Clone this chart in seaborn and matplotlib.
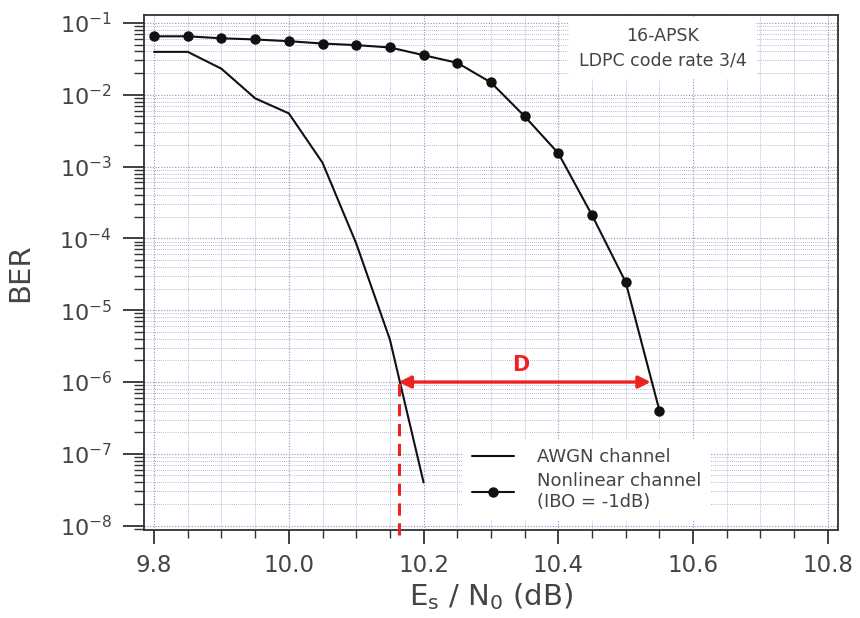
import numpy as np
import pandas as pd
import matplotlib
matplotlib.use("Agg")
import matplotlib.pyplot as plt
import matplotlib.ticker as mticker
import seaborn as sns

# ---- data ----
snr_awgn = [9.80, 9.85, 9.90, 9.95, 10.00, 10.05, 10.10, 10.15, 10.20]
ber_awgn = [0.0395, 0.0395, 0.023, 0.0089, 0.0055, 1.13e-3, 8.5e-5, 3.9e-6, 4.0e-8]

snr_nl = [9.80, 9.85, 9.90, 9.95, 10.00, 10.05, 10.10, 10.15, 10.20, 10.25,
          10.30, 10.35, 10.40, 10.45, 10.50, 10.55]
ber_nl = [0.065, 0.065, 0.061, 0.0588, 0.0556, 0.0516, 0.049, 0.0455, 0.0355, 0.0278,
          0.0148, 5.0e-3, 1.53e-3, 2.1e-4, 2.45e-5, 4.0e-7]

series_names = ["AWGN channel", "Nonlinear channel\n(IBO = -1dB)"]
box_text = "16-APSK\nLDPC code rate 3/4"
ref_ber = 1e-6
d_left, d_right = 10.163, 10.537

df_awgn = pd.DataFrame({"snr": snr_awgn, "ber": ber_awgn})
df_nl = pd.DataFrame({"snr": snr_nl, "ber": ber_nl})

sns.set_theme(style="white")
plt.rcParams["font.family"] = ["DejaVu Sans"]
plt.rcParams["mathtext.default"] = "regular"

fig = plt.figure(figsize=(8.6, 6.18), dpi=100)
ax = fig.add_axes([0.1674, 0.1424, 0.807, 0.833])

sns.lineplot(data=df_awgn, x="snr", y="ber", color="#111111", linewidth=1.5,
             ax=ax, label=series_names[0], sort=False, estimator=None)
sns.lineplot(data=df_nl, x="snr", y="ber", color="#111111", linewidth=1.5,
             marker="o", markersize=7.5, markeredgewidth=0,
             ax=ax, label=series_names[1], sort=False, estimator=None)

ax.set_yscale("log")
ax.set_xlim(9.785, 10.815)
ax.set_ylim(10 ** -8.06, 10 ** -0.893)

ax.xaxis.set_major_locator(mticker.MultipleLocator(0.2))
ax.xaxis.set_minor_locator(mticker.MultipleLocator(0.05))
ax.xaxis.set_major_formatter(mticker.FormatStrFormatter("%.1f"))
ax.xaxis.set_minor_formatter(mticker.NullFormatter())
ax.yaxis.set_major_locator(mticker.LogLocator(base=10, numticks=20))
ax.yaxis.set_minor_locator(mticker.LogLocator(base=10, subs=np.arange(2, 10), numticks=20))
ax.yaxis.set_minor_formatter(mticker.NullFormatter())

ax.grid(True, which="major", color="#9090c8", linestyle=(0, (1, 1.5)), linewidth=0.8)
ax.grid(True, which="minor", color="#a0a0d4", linestyle=(0, (1, 1.5)), linewidth=0.6)
ax.set_axisbelow(True)

ax.tick_params(axis="both", which="both", bottom=True, left=True, top=False, right=False,
               direction="out", colors="#333333")
ax.tick_params(axis="x", which="major", length=10, width=1.3, labelsize=16.5, pad=7)
ax.tick_params(axis="x", which="minor", length=6, width=1.0)
ax.tick_params(axis="y", which="major", length=15, width=1.3, labelsize=16, pad=8)
ax.tick_params(axis="y", which="minor", length=7, width=1.0)
for lbl in ax.get_xticklabels() + ax.get_yticklabels():
    lbl.set_color("#444444")

for s in ax.spines.values():
    s.set_color("#333333")
    s.set_linewidth(1.3)

ax.set_xlabel("E$_s$ / N$_0$ (dB)", fontsize=21, color="#444444", labelpad=3)
ax.set_ylabel("BER", fontsize=21, color="#444444", labelpad=18)

# red arrow D
ax.annotate("", xy=(d_left, ref_ber), xytext=(d_right, ref_ber),
            arrowprops=dict(arrowstyle="<|-|>", color="#ee2222", lw=2.4,
                            mutation_scale=18, shrinkA=0, shrinkB=0), zorder=5)
ax.text((d_left + d_right) / 2 - 0.006, 1.75e-6, "D", color="#ee2222", fontsize=15,
        fontweight="bold", ha="center", va="center", zorder=5)
ax.plot([d_left, d_left], [10 ** -8.13, ref_ber], color="#ee2222",
        linestyle=(0, (4, 2.5)), linewidth=2.2, zorder=4, clip_on=False)

# info box
ax.text(0.747, 0.936, box_text, transform=ax.transAxes, ha="center", va="center",
        fontsize=12.5, color="#444444", linespacing=1.45,
        bbox=dict(facecolor="white", edgecolor="none", boxstyle="square,pad=0.55"))

leg = ax.legend(loc="lower left", bbox_to_anchor=(0.46, 0.02), frameon=True,
                fontsize=13, handlelength=2.3, handletextpad=1.3, labelcolor="#444444",
                borderpad=0.5, labelspacing=0.3, borderaxespad=0)
leg.get_frame().set_facecolor("white")
leg.get_frame().set_edgecolor("none")
leg.get_frame().set_alpha(1.0)

fig.savefig("out.png", dpi=100)
